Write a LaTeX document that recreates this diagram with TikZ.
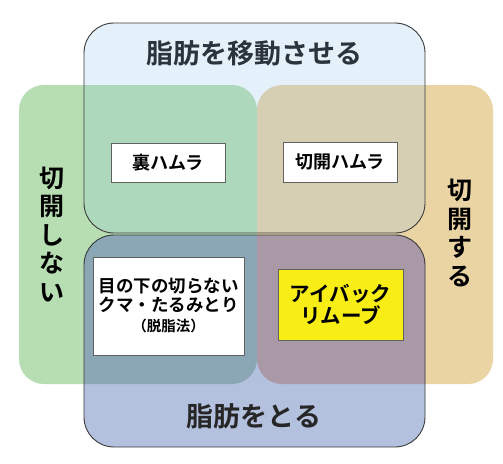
\documentclass[tikz,border=0pt]{standalone}
\usepackage{fontspec}
\setmainfont{Noto Sans CJK JP}[BoldFont={Noto Sans CJK JP Bold}]
\usepackage{tikz}
\usetikzlibrary{positioning}
\definecolor{greenbase}{HTML}{B6DEB2}
\definecolor{orangebase}{HTML}{EBD4A4}
\definecolor{topblue}{HTML}{E4F1FB}
\definecolor{bottomblue}{HTML}{B4C1DE}
\definecolor{greentop}{HTML}{AED8BC}
\definecolor{greenbottom}{HTML}{8BA6B4}
\definecolor{orangetop}{HTML}{D6CFB4}
\definecolor{orangebottom}{HTML}{A999A6}
\definecolor{edgegrey}{HTML}{3A3A3A}
\definecolor{titleink}{HTML}{2B333B}
\definecolor{eyebagyellow}{HTML}{F8EE16}

\begin{document}
\begin{tikzpicture}[x=1pt, y=-1pt,
    labelbox/.style={draw=edgegrey!80, line width=0.9pt, fill=white, inner sep=0pt, align=center},
    titletext/.style={titleink, font=\fontsize{27}{29}\selectfont\bfseries},
    sidetext/.style={black, align=center, font=\fontsize{25}{28.5}\selectfont\bfseries}]
  \useasboundingbox (0,0) rectangle (503,463);
  \fill[white] (0,0) rectangle (503,463);

  % base areas
  \fill[greenbase, rounded corners=25pt] (19,85) rectangle (257,384);
  \fill[orangebase, rounded corners=25pt] (257,85) rectangle (493,384);
  \fill[topblue, rounded corners=30pt] (84,23) rectangle (425,233);
  \fill[bottomblue, rounded corners=30pt] (84,235) rectangle (425,447);

  % overlaps
  \begin{scope}
    \clip[rounded corners=25pt] (19,85) rectangle (257,384);
    \fill[greentop, rounded corners=30pt] (84,23) rectangle (425,233);
    \fill[greenbottom, rounded corners=30pt] (84,235) rectangle (425,447);
  \end{scope}
  \begin{scope}
    \clip[rounded corners=25pt] (257,85) rectangle (493,384);
    \fill[orangetop, rounded corners=30pt] (84,23) rectangle (425,233);
    \fill[orangebottom, rounded corners=30pt] (84,235) rectangle (425,447);
  \end{scope}

  % outlines
  \draw[edgegrey, line width=0.9pt, rounded corners=30pt] (84,23) rectangle (425,233);
  \draw[edgegrey, line width=0.9pt, rounded corners=30pt] (84,235) rectangle (425,447);

  % group labels
  \node[titletext] (movetitle) at (254,53) {脂肪を移動させる};
  \node[titletext, black!85] (removetitle) at (254,416) {脂肪をとる};
  \node[sidetext] (nocut) at (52,234.5) {切\\開\\し\\な\\い};
  \node[sidetext] (cut) at (460,233) {切\\開\\す\\る};

  % methods
  \node[labelbox, minimum width=114pt, minimum height=39pt,
    font=\fontsize{18}{20}\selectfont\bfseries] (urahamura) at (168,162.5) {裏ハムラ};
  \node[labelbox, minimum width=114pt, minimum height=40pt,
    font=\fontsize{18}{20}\selectfont\bfseries] (sekkaihamura) at (340,162) {切開ハムラ};
  \node[labelbox, minimum width=151pt, minimum height=98pt,
    font=\fontsize{17.5}{19}\selectfont\bfseries] (datsushi) at (168.5,306)
    {目の下の切らない\\クマ・たるみとり\\[1pt]{\fontsize{14.5}{17}\selectfont （脱脂法）}};
  \node[labelbox, fill=eyebagyellow, minimum width=125pt, minimum height=71pt,
    font=\fontsize{20.5}{22}\selectfont\bfseries] (eyebag) at (340.5,304.5) {アイバック\\リムーブ};
\end{tikzpicture}
\end{document}
